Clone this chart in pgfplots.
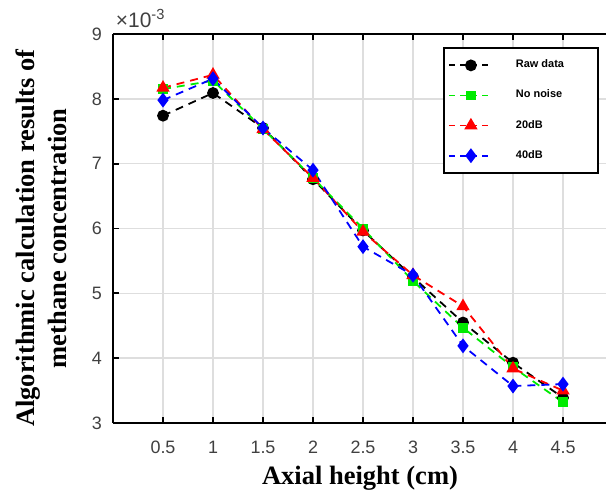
\documentclass[border=0pt]{standalone}
\usepackage{fontspec}
\setmainfont{Liberation Serif}
\setsansfont{Liberation Sans}
\usepackage{pgfplots}
\pgfplotsset{compat=1.18}
\definecolor{mgreen}{RGB}{0,235,0}
\begin{document}
\begin{tikzpicture}
\begin{axis}[
  name=main,
  scale only axis,
  width=250bp, height=194.5bp,
  xmin=0, xmax=5, ymin=3, ymax=9,
  axis x line*=box, axis y line*=left,
  xtick={0.5,1,1.5,2,2.5,3,3.5,4,4.5},
  xticklabels={0.5,1,1.5,2,2.5,3,3.5,4,4.5},
  ytick={3,4,5,6,7,8,9},
  grid=major,
  major grid style={line width=0.8pt, draw=black!13},
  axis line style={line width=1.1pt, -},
  tick style={line width=0.9pt, black},
  tick align=inside,
  major tick length=3bp,
  ticklabel style={font=\sffamily\fontsize{9}{10}\selectfont, text=black!75},
  /pgf/number format/assume math mode=true,
  xticklabel style={yshift=-5.5bp},
  yticklabel style={xshift=-2bp},
  xlabel={Axial height (cm)},
  ylabel={Algorithmic calculation results of\\methane concentration},
  xlabel style={font=\bfseries\fontsize{13.3}{16}\selectfont, at={(axis description cs:0.494,-0.141)}, anchor=center},
  ylabel style={font=\bfseries\fontsize{13.3}{16}\selectfont, align=center, at={(axis description cs:-0.144,0.475)}, anchor=center},
  legend style={at={(axis description cs:1,0.967)}, xshift=-7bp, anchor=north east, draw=black, line width=1.1pt,
    font=\sffamily\bfseries\fontsize{5.5}{6}\selectfont, row sep=5.6bp, inner xsep=2bp, inner ysep=4bp,
    cells={anchor=west}},
  legend image code/.code={%
    \draw[#1, line width=0.9pt, mark=none, dash pattern=on 3bp off 2.6bp] (0cm,0cm) -- (0.78cm,0cm);
    \draw[#1, line width=0.9pt, only marks] plot coordinates {(0.39cm,0cm)};},
  legend cell align=left,
  every axis plot/.append style={line width=0.9pt, dash pattern=on 4bp off 3bp},
  clip=false,
]
\addplot[black, mark=*, mark size=2.5bp, mark options={solid, fill=black}] coordinates {
 (0.5,7.74) (1,8.09) (1.5,7.55) (2,6.76) (2.5,5.97) (3,5.25) (3.5,4.55) (4,3.93) (4.5,3.39)};
\addlegendentry{\hspace{9bp}\makebox[37bp][l]{Raw data}}
\addplot[mgreen, mark=square*, mark size=2bp, mark options={solid, fill=mgreen}] coordinates {
 (0.5,8.15) (1,8.28) (1.5,7.54) (2,6.78) (2.5,6.00) (3,5.19) (3.5,4.47) (4,3.86) (4.5,3.32)};
\addlegendentry{\hspace{9bp}\makebox[37bp][l]{No noise}}
\addplot[red, mark=triangle*, mark size=3bp, mark options={solid, fill=red}] coordinates {
 (0.5,8.17) (1,8.37) (1.5,7.53) (2,6.78) (2.5,5.95) (3,5.28) (3.5,4.80) (4,3.84) (4.5,3.50)};
\addlegendentry{\hspace{9bp}\makebox[37bp][l]{20dB}}
\addplot[blue, mark=diamond*, mark size=3bp, mark options={solid, fill=blue}] coordinates {
 (0.5,7.98) (1,8.31) (1.5,7.55) (2,6.90) (2.5,5.72) (3,5.28) (3.5,4.19) (4,3.57) (4.5,3.60)};
\addlegendentry{\hspace{9bp}\makebox[37bp][l]{40dB}}
\node[anchor=base west, inner sep=0pt, font=\sffamily\fontsize{10.5}{11}\selectfont, text=black!75] at ([yshift=3.5bp]rel axis cs:0.005,1) {×10\textsuperscript{-3}};
\end{axis}
\pgfresetboundingbox
\path[use as bounding box] ([xshift=-56.5bp,yshift=-36bp]main.south west) rectangle ([xshift=-3.5bp,yshift=17bp]main.north east);
\end{tikzpicture}
\end{document}
